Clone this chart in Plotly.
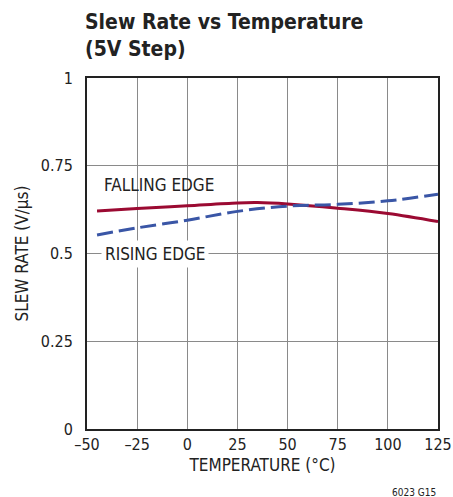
import plotly.graph_objects as go

temp = [-45, -25, 0, 25, 35, 50, 75, 100, 125]
falling = [0.621, 0.628, 0.636, 0.644, 0.645, 0.641, 0.629, 0.614, 0.591]
rising_t = [-45, -25, 0, 25, 50, 75, 100, 125]
rising = [0.553, 0.573, 0.595, 0.620, 0.635, 0.640, 0.650, 0.669]

x_ticks = [-50, -25, 0, 25, 50, 75, 100, 125]
x_labels = ["–50", "–25", "0", "25", "50", "75", "100", "125"]
y_ticks = [0, 0.25, 0.5, 0.75, 1]
y_labels = ["0", "0.25", "0.5", "0.75", "1"]

FONT = "Liberation Sans Narrow, DejaVu Sans Condensed, sans-serif"

fig = go.Figure()
fig.add_trace(go.Scatter(x=temp, y=falling, mode="lines", line=dict(color="#9b0a32", width=3, shape="spline"), showlegend=False))
fig.add_trace(go.Scatter(x=rising_t, y=rising, mode="lines", line=dict(color="#3a56a6", width=3, dash="16px,6px", shape="spline"), showlegend=False))

fig.add_annotation(x=-42.5, y=0.695, text="FALLING EDGE", showarrow=False, xanchor="left", yanchor="middle",
                   font=dict(family=FONT, size=17, color="#222"))
fig.add_annotation(x=-43, y=0.5, text="RISING EDGE", showarrow=False, xanchor="left", yanchor="middle",
                   font=dict(family=FONT, size=17, color="#222"), bgcolor="white", borderpad=3)
fig.add_annotation(xref="paper", yref="paper", x=1.0, y=-0.18, text="6023 G15", showarrow=False,
                   xanchor="right", yanchor="middle", font=dict(family=FONT, size=10, color="#222"))
fig.add_annotation(xref="paper", yref="paper", x=-0.012, y=1.2, text="<b>Slew Rate vs Temperature<br>(5V Step)</b>",
                   showarrow=False, xanchor="left", yanchor="top", align="left",
                   font=dict(family=FONT, size=21, color="#222"))

fig.update_layout(
    width=453, height=497,
    margin=dict(l=87, r=15, t=78, b=68, autoexpand=False),
    plot_bgcolor="white", paper_bgcolor="white",
    font=dict(family=FONT, color="#222"),
)
fig.update_xaxes(range=[-50, 125], tickvals=x_ticks, ticktext=x_labels, showgrid=True, gridcolor="#8a8a8a", gridwidth=1,
                 showline=True, linecolor="#222", linewidth=2, mirror=True, zeroline=False, ticks="", automargin=False,
                 tickfont=dict(size=16), title=dict(text="TEMPERATURE (°C)", font=dict(size=17), standoff=6))
fig.update_yaxes(range=[0, 1], tickvals=y_ticks, ticktext=y_labels, showgrid=True, gridcolor="#8a8a8a", gridwidth=1,
                 showline=True, linecolor="#222", linewidth=2, mirror=True, zeroline=False, ticks="", automargin=False,
                 ticklabelstandoff=9,
                 tickfont=dict(size=16), title=dict(text="SLEW RATE (V/µs)", font=dict(size=17), standoff=8))

fig.write_html("out.html", config={"displayModeBar": False},
               post_script="document.body.style.margin='0';document.body.style.overflow='hidden';")
